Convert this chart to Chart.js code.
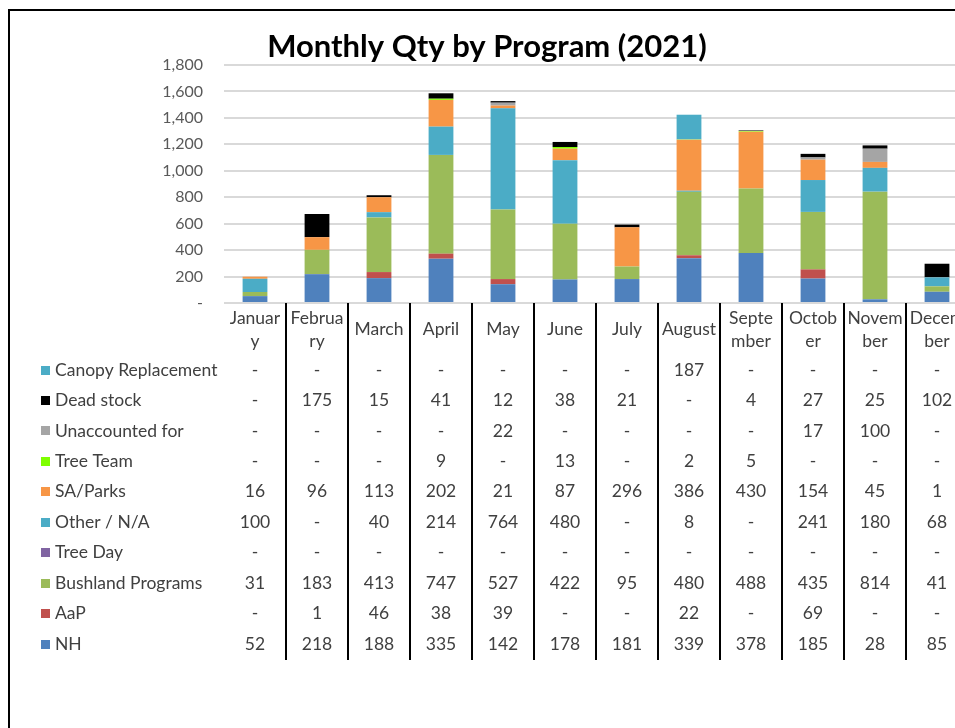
<!DOCTYPE html>
<html>
<head>
<meta charset="utf-8">
<script src="https://cdn.jsdelivr.net/npm/chart.js@4.4.0/dist/chart.umd.min.js"></script>
<style>
  html, body { margin: 0; padding: 0; background: #fff; overflow: hidden; }
  #frame { position: absolute; left: 8px; top: 9px; width: 1000px; height: 800px;
           border-left: 2px solid #000; border-top: 2px solid #000; }
  #chart { position: absolute; left: 0; top: 0; }
</style>
</head>
<body>
<div id="frame"></div>
<canvas id="chart" width="980" height="728"></canvas>
<script>
// months as shown in the data table (Excel wraps the long ones)
var months = ['January', 'February', 'March', 'April', 'May', 'June',
              'July', 'August', 'September', 'October', 'November', 'December'];
var monthLines = [['Januar', 'y'], ['Februa', 'ry'], ['March'], ['April'], ['May'], ['June'],
                  ['July'], ['August'], ['Septe', 'mber'], ['Octob', 'er'], ['Novem', 'ber'], ['Decem', 'ber']];

// series, bottom of the stack first
var nh          = [52, 218, 188, 335, 142, 178, 181, 339, 378, 185, 28, 85];
var aap         = [0, 1, 46, 38, 39, 0, 0, 22, 0, 69, 0, 0];
var bushland    = [31, 183, 413, 747, 527, 422, 95, 480, 488, 435, 814, 41];
var treeDay     = [0, 0, 0, 0, 0, 0, 0, 0, 0, 0, 0, 0];
var otherNA     = [100, 0, 40, 214, 764, 480, 0, 8, 0, 241, 180, 68];
var saParks     = [16, 96, 113, 202, 21, 87, 296, 386, 430, 154, 45, 1];
var treeTeam    = [0, 0, 0, 9, 0, 13, 0, 2, 5, 0, 0, 0];
var unaccounted = [0, 0, 0, 0, 22, 0, 0, 0, 0, 17, 100, 0];
var deadStock   = [0, 175, 15, 41, 12, 38, 21, 0, 4, 27, 25, 102];
var canopy      = [0, 0, 0, 0, 0, 0, 0, 187, 0, 0, 0, 0];

var seriesNames  = ['NH', 'AaP', 'Bushland Programs', 'Tree Day', 'Other / N/A', 'SA/Parks',
                    'Tree Team', 'Unaccounted for', 'Dead stock', 'Canopy Replacement'];
var seriesData   = [nh, aap, bushland, treeDay, otherNA, saParks, treeTeam, unaccounted, deadStock, canopy];
var seriesColors = ['#4f81bd', '#c0504d', '#9bbb59', '#8064a2', '#4bacc6', '#f79646',
                    '#7fff00', '#a5a5a5', '#000000', '#4bacc6'];

var yMax = 1800;
var yStep = 200;

var FONT = 'Lato, "Open Sans", sans-serif';
var TEXT = '#404040';

var datasets = seriesNames.map(function (name, i) {
    return {
        label: name,
        data: seriesData[i],
        backgroundColor: seriesColors[i],
        borderWidth: 0,
        barPercentage: 0.4,
        categoryPercentage: 1.0
    };
});

function fmt(v) {
    return v === 0 ? '-' : v.toLocaleString('en-US');
}

// title + data table under the plot
var tablePlugin = {
    id: 'dataTable',
    afterDraw: function (chart) {
        var ctx = chart.ctx;
        var x = chart.scales.x;
        var area = chart.chartArea;
        var colW = x.getPixelForValue(1) - x.getPixelForValue(0);
        var rowTop = 370;
        var rowH = 30.45;
        var tableBottom = 660;

        ctx.save();

        ctx.font = 'bold 31px ' + FONT;
        ctx.fillStyle = '#000';
        ctx.textAlign = 'center';
        ctx.textBaseline = 'middle';
        ctx.fillText('Monthly Qty by Program (2021)', 487, 47);

        ctx.strokeStyle = '#000';
        ctx.lineWidth = 2;
        for (var i = 0; i < months.length; i++) {
            var sx = Math.round(x.getPixelForValue(i) + colW / 2);
            ctx.beginPath();
            ctx.moveTo(sx, area.bottom);
            ctx.lineTo(sx, tableBottom);
            ctx.stroke();
        }

        ctx.font = '17.5px ' + FONT;
        ctx.fillStyle = TEXT;
        monthLines.forEach(function (lines, i) {
            var cx = x.getPixelForValue(i);
            if (lines.length === 1) {
                ctx.fillText(lines[0], cx, 329);
            } else {
                ctx.fillText(lines[0], cx, 318);
                ctx.fillText(lines[1], cx, 341);
            }
        });

        // rows go top of the stack first
        for (var r = 0; r < seriesNames.length; r++) {
            var s = seriesNames.length - 1 - r;
            var cy = rowTop + r * rowH;
            ctx.fillStyle = seriesColors[s];
            ctx.fillRect(41, Math.round(cy - 4.5), 9, 9);
            ctx.fillStyle = TEXT;
            ctx.textAlign = 'left';
            ctx.fillText(seriesNames[s], 55, cy);
            ctx.textAlign = 'center';
            for (var c = 0; c < months.length; c++) {
                ctx.fillText(fmt(seriesData[s][c]), x.getPixelForValue(c), cy);
            }
        }

        ctx.restore();
    }
};

new Chart(document.getElementById('chart'), {
    type: 'bar',
    data: {
        labels: months,
        datasets: datasets
    },
    options: {
        responsive: false,
        animation: false,
        layout: {
            padding: { top: 65, right: 12, bottom: 417, left: 0 }
        },
        plugins: {
            legend: { display: false },
            title: { display: false },
            tooltip: { enabled: false }
        },
        scales: {
            x: {
                stacked: true,
                grid: { display: false },
                border: { display: false },
                ticks: { display: false }
            },
            y: {
                stacked: true,
                min: 0,
                max: yMax,
                afterFit: function (scale) {
                    scale.width = 224;
                },
                grid: { color: '#d9d9d9', lineWidth: 2, drawTicks: false },
                border: { display: false },
                ticks: {
                    stepSize: yStep,
                    padding: 21,
                    color: '#595959',
                    font: { family: FONT, size: 16 },
                    callback: function (v) { return fmt(v); }
                }
            }
        }
    },
    plugins: [tablePlugin]
});
</script>
</body>
</html>
